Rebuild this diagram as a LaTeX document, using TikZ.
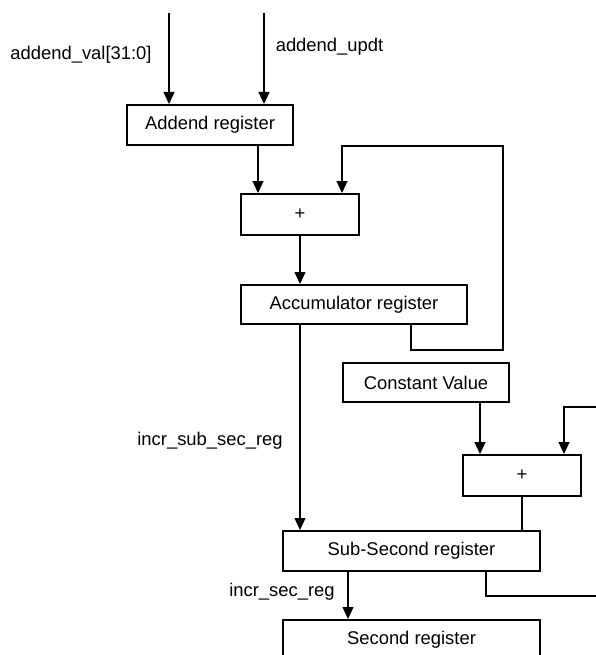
\documentclass[tikz,border=0pt]{standalone}
\usepackage{fontspec}
\setmainfont{Liberation Sans}
\usetikzlibrary{arrows.meta}
\begin{document}
\begin{tikzpicture}[x=1pt,y=-1pt,
 box/.style={draw, line width=2pt, inner sep=0pt, font=\fontsize{18.4}{22}\selectfont},
 lbl/.style={inner sep=0pt, font=\fontsize{18.4}{22}\selectfont},
 wire/.style={line width=1.2pt},
 arr/.style={wire, -{Triangle[length=12pt,width=11pt]}}]
\useasboundingbox (0,0) rectangle (596,655);
\clip (0,0) rectangle (596,655);

% boxes
\node[box, minimum width=166pt, minimum height=40pt] (addend) at (210,125) {Addend register};
\node[box, minimum width=118pt, minimum height=41pt] (plus1) at (300,214.5) {+};
\node[box, minimum width=226pt, minimum height=39pt] (acc) at (354,304.5) {Accumulator register};
\node[box, minimum width=166pt, minimum height=39pt] (const) at (426,382.5) {Constant Value};
\node[box, minimum width=118pt, minimum height=41pt] (plus2) at (522,475.5) {+};
\node[box, minimum width=257pt, minimum height=40pt] (sub) at (411.5,551) {Sub-Second register};
\node[box, minimum width=257pt, minimum height=40pt] (sec) at (411.5,640) {Second register};

% labels
\node[lbl] (lval) at (81,55) {addend\_val[31:0]};
\node[lbl] (lupdt) at (329.5,47) {addend\_updt};
\node[lbl] (lsub) at (210,441) {incr\_sub\_sec\_reg};
\node[lbl] (lsec) at (282,592) {incr\_sec\_reg};

% helper coordinates
\coordinate (t1) at (169,13);
\coordinate (t2) at (264,13);
\coordinate (c258) at (258,0);
\coordinate (c300) at (300,0);
\coordinate (c342) at (342,0);
\coordinate (c411) at (411,0);
\coordinate (fbA) at (503,350);
\coordinate (fbB) at (503,146);
\coordinate (c480) at (480,0);
\coordinate (c564) at (564,0);
\coordinate (c522) at (522,0);
\coordinate (c486) at (486,0);
\coordinate (c348) at (348,0);
\coordinate (fbC) at (602,596);
\coordinate (fbD) at (602,407);

% connectors
\draw[arr] (t1) -- (t1 |- addend.north);
\draw[arr] (t2) -- (t2 |- addend.north);
\draw[arr] (addend.south -| c258) -- (plus1.north -| c258);
\draw[arr] (plus1.south -| c300) -- (acc.north -| c300);
\draw[arr] (acc.south -| c411) |- (fbA) -- (fbB) -| (plus1.north -| c342);
\draw[arr] (acc.south -| c300) -- (sub.north -| c300);
\draw[arr] (const.south -| c480) -- (plus2.north -| c480);
\draw[wire] (plus2.south -| c522) -- (sub.north -| c522);
\draw[arr] (sub.south -| c486) |- (fbC) -- (fbD) -| (plus2.north -| c564);
\draw[arr] (sub.south -| c348) -- (sec.north -| c348);
\end{tikzpicture}
\end{document}
